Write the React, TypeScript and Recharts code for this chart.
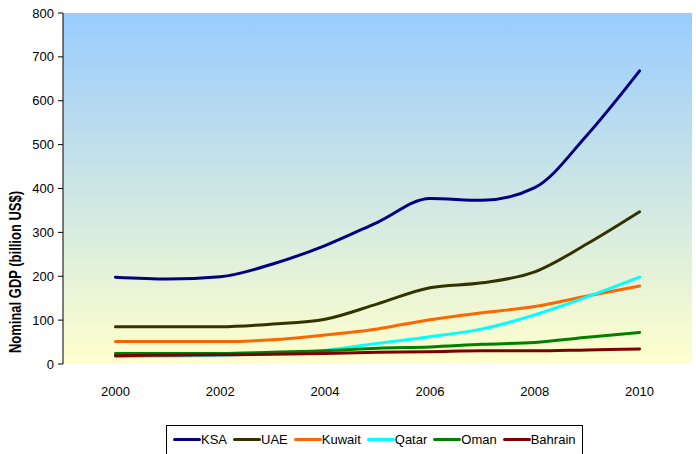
import React from 'react';
import { LineChart, Line, XAxis, YAxis, CartesianGrid, Legend } from 'recharts';

// values (billion US$)
const years = [2000, 2001, 2002, 2003, 2004, 2005, 2006, 2007, 2008, 2009, 2010];
const ksa = [198, 194, 199, 228, 270, 323, 377, 373, 402, 522, 668];
const uae = [85, 85, 85, 91, 102, 137, 174, 185, 210, 274, 347];
const kuwait = [51, 51, 51, 55, 66, 80, 101, 117, 131, 155, 178];
const qatar = [17, 18, 20, 24, 31, 47, 62, 80, 112, 153, 198];
const oman = [24, 24, 24, 27, 30, 36, 39, 45, 49, 61, 72];
const bahrain = [19, 20, 21, 22, 24, 27, 28, 30, 30, 32, 34];

const labelYears = [2000, 2002, 2004, 2006, 2008, 2010];
const markYears = [1999, 2001, 2003, 2005, 2007, 2009, 2011];
const yTicks = [0, 100, 200, 300, 400, 500, 600, 700, 800];

const series = [
  { key: 'KSA', color: '#000080' },
  { key: 'UAE', color: '#333300' },
  { key: 'Kuwait', color: '#FF6600' },
  { key: 'Qatar', color: '#00FFFF' },
  { key: 'Oman', color: '#008000' },
  { key: 'Bahrain', color: '#800000' },
];

const data = years.map((year, i) => ({
  year,
  KSA: ksa[i],
  UAE: uae[i],
  Kuwait: kuwait[i],
  Qatar: qatar[i],
  Oman: oman[i],
  Bahrain: bahrain[i],
}));

const font = 'Arial, "Liberation Sans", sans-serif';

// legend box runs off the bottom edge in the original, so no bottom border
const LegendBox = () => (
  <div
    style={{
      borderTop: '1px solid #000',
      borderLeft: '1px solid #000',
      borderRight: '1px solid #000',
      borderBottom: 'none',
      background: '#fff',
      height: 40,
      boxSizing: 'border-box',
      padding: '4px 0 0 6px',
      display: 'flex',
      alignItems: 'flex-start',
      fontFamily: font,
      fontSize: 13,
      color: '#000',
      whiteSpace: 'nowrap',
    }}
  >
    {series.map((s) => (
      <span key={s.key} style={{ display: 'flex', alignItems: 'center', marginRight: 6, height: 18 }}>
        <span style={{ display: 'inline-block', width: 28, height: 3, background: s.color, borderRadius: 1.5 }} />
        <span>{s.key}</span>
      </span>
    ))}
  </div>
);

const YTitle = () => (
  <text
    x={15}
    y={272}
    transform="rotate(-90 15 272)"
    textAnchor="middle"
    dominantBaseline="central"
    fontFamily={font}
    fontWeight="bold"
    fontSize={17}
    textLength={162}
    lengthAdjust="spacingAndGlyphs"
    fill="#000"
  >
    Nominal GDP (billion US$)
  </text>
);

export default function App() {
  return (
    <div style={{ position: 'absolute', left: 0, top: 0, width: 696, height: 454, overflow: 'hidden', background: '#fff' }}>
      <LineChart width={696} height={454} data={data} margin={{ top: 13, right: 4, bottom: 0, left: 0 }}>
        <defs>
          <linearGradient id="plotBg" x1="0" y1="0" x2="0" y2="1">
            <stop offset="0%" stopColor="#99CCFF" />
            <stop offset="100%" stopColor="#FFFFCC" />
          </linearGradient>
        </defs>
        <CartesianGrid horizontal={false} vertical={false} fill="url(#plotBg)" stroke="none" />
        <XAxis
          xAxisId="marks"
          dataKey="year"
          type="number"
          domain={[1999, 2011]}
          ticks={markYears}
          tick={false}
          tickSize={6}
          height={0}
          axisLine={{ stroke: '#000' }}
          tickLine={{ stroke: '#000' }}
        />
        <XAxis
          xAxisId="main"
          dataKey="year"
          type="number"
          domain={[1999, 2011]}
          ticks={labelYears}
          interval={0}
          height={90}
          axisLine={false}
          tickLine={false}
          tickSize={8}
          tickMargin={15}
          tick={{ fill: '#000', fontSize: 13, fontFamily: font }}
        />
        <YAxis
          domain={[0, 800]}
          ticks={yTicks}
          interval={0}
          width={63}
          tickSize={5}
          tickMargin={4}
          axisLine={{ stroke: '#000' }}
          tickLine={{ stroke: '#000' }}
          tick={{ fill: '#000', fontSize: 13, fontFamily: font }}
          label={{ content: () => <YTitle /> }}
        />
        <Legend
          layout="horizontal"
          verticalAlign="middle"
          align="center"
          content={() => <LegendBox />}
          wrapperStyle={{ left: 166, top: 425, width: 'auto' }}
        />
        {series.map((s) => (
          <Line
            key={s.key}
            xAxisId="main"
            type="monotone"
            dataKey={s.key}
            stroke={s.color}
            strokeWidth={3}
            strokeLinecap="round"
            dot={false}
            activeDot={false}
            isAnimationActive={false}
          />
        ))}
      </LineChart>
    </div>
  );
}
